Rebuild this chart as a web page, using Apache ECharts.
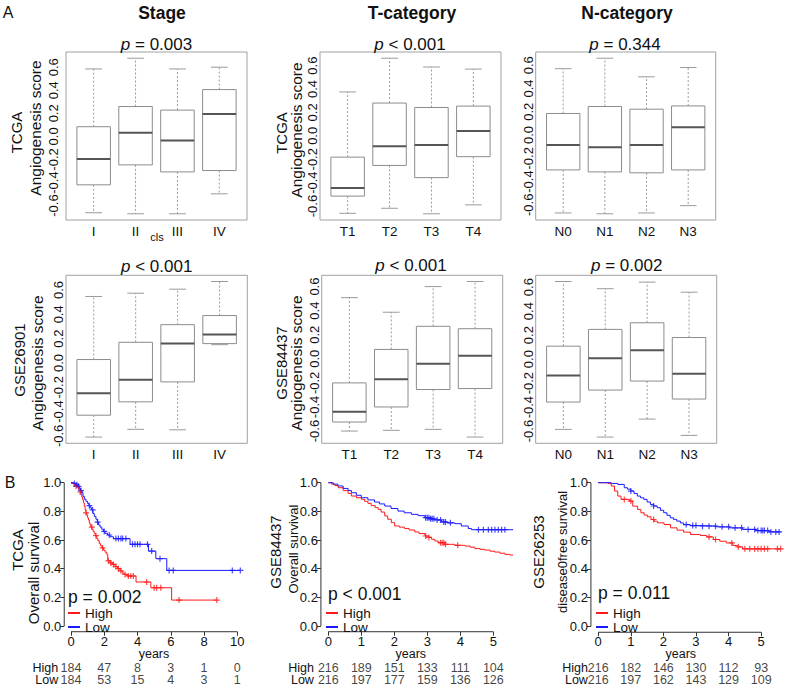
<!DOCTYPE html>
<html><head><meta charset="utf-8">
<script src="https://cdn.jsdelivr.net/npm/echarts@6/dist/echarts.min.js"></script>
<style>html,body{margin:0;padding:0;background:#fff}#c{width:788px;height:689px}</style>
</head><body><div id="c"></div>
<script>
// ================= DATA =================
const stageCats = ['I', 'II', 'III', 'IV'];
const tCats = ['T1', 'T2', 'T3', 'T4'];
const nCats = ['N0', 'N1', 'N2', 'N3'];
const scoreTicks = [-0.6, -0.4, -0.2, 0, 0.2, 0.4, 0.6];
// box stats per category: [lower whisker, Q1, median, Q3, upper whisker]
const tcgaStage = [[-0.662, -0.42, -0.195, 0.084, 0.585], [-0.671, -0.247, 0.032, 0.259, 0.678], [-0.671, -0.308, -0.035, 0.228, 0.585], [-0.498, -0.296, 0.194, 0.406, 0.60]];
const tcgaT = [[-0.662, -0.515, -0.446, -0.182, 0.375], [-0.619, -0.253, -0.089, 0.28, 0.663], [-0.666, -0.357, -0.078, 0.242, 0.588], [-0.59, -0.178, 0.041, 0.254, 0.57]];
const tcgaN = [[-0.67, -0.30, -0.086, 0.185, 0.57], [-0.677, -0.317, -0.106, 0.245, 0.66], [-0.67, -0.325, -0.086, 0.222, 0.50], [-0.607, -0.30, 0.066, 0.25, 0.58]];
const gse26901Stage = [[-0.61, -0.43, -0.25, 0.028, 0.547], [-0.546, -0.32, -0.139, 0.17, 0.574], [-0.55, -0.156, 0.159, 0.315, 0.607], [0.15, 0.159, 0.235, 0.39, 0.67]];
const gse84437T = [[-0.60, -0.525, -0.44, -0.2, 0.508], [-0.594, -0.40, -0.17, 0.078, 0.387], [-0.586, -0.255, -0.04, 0.27, 0.60], [-0.65, -0.247, 0.025, 0.25, 0.642]];
const gseN = [[-0.586, -0.358, -0.136, 0.108, 0.647], [-0.65, -0.258, 0.008, 0.248, 0.587], [-0.50, -0.183, 0.075, 0.303, 0.642], [-0.636, -0.333, -0.122, 0.18, 0.558]];

// Kaplan-Meier curves (time in years, survival)
const survTicks = [0, 0.2, 0.4, 0.6, 0.8, 1.0];
const tcgaHighT = [0, 0.1, 0.2, 0.3, 0.4, 0.48, 0.55, 0.6, 0.65, 0.7, 0.75, 0.8, 0.85, 0.9, 0.95, 1.0, 1.05, 1.1, 1.15, 1.2, 1.27, 1.33, 1.4, 1.47, 1.55, 1.62, 1.7, 1.78, 1.86, 1.95, 2.05, 2.15, 2.21, 2.35, 2.5, 2.65, 2.8, 2.95, 3.08, 3.2, 3.35, 3.91, 4.8, 6.05, 8.77];
const tcgaHighS = [1, 0.995, 0.985, 0.975, 0.965, 0.95, 0.935, 0.92, 0.9, 0.88, 0.86, 0.835, 0.81, 0.79, 0.775, 0.755, 0.74, 0.72, 0.705, 0.69, 0.675, 0.66, 0.645, 0.63, 0.61, 0.595, 0.575, 0.56, 0.545, 0.53, 0.515, 0.5, 0.455, 0.44, 0.43, 0.415, 0.4, 0.385, 0.37, 0.36, 0.349, 0.307, 0.267, 0.181, 0.181];
const tcgaHighCens = [0.3, 0.55, 0.9, 1.25, 1.5, 1.9, 2.25, 2.4, 2.55, 2.7, 2.85, 3.0, 3.25, 3.45, 3.6, 3.75, 4.55, 5.0, 5.15, 5.4, 6.5, 8.77];
const tcgaLowT = [0, 0.15, 0.3, 0.4, 0.5, 0.58, 0.65, 0.72, 0.8, 0.9, 1.0, 1.08, 1.16, 1.24, 1.32, 1.4, 1.5, 1.58, 1.66, 1.75, 1.85, 1.95, 2.05, 2.2, 2.35, 2.55, 3.55, 4.66, 5.1, 5.76, 10.18];
const tcgaLowS = [1, 0.995, 0.985, 0.975, 0.96, 0.945, 0.93, 0.905, 0.885, 0.87, 0.855, 0.84, 0.825, 0.81, 0.785, 0.765, 0.745, 0.725, 0.705, 0.69, 0.675, 0.66, 0.647, 0.635, 0.623, 0.61, 0.57, 0.523, 0.47, 0.388, 0.388];
const tcgaLowCens = [0.2, 0.35, 0.45, 0.6, 1.1, 1.3, 1.6, 2.0, 2.3, 2.7, 2.85, 3.0, 3.1, 3.3, 3.7, 3.85, 4.0, 4.15, 4.6, 4.85, 5.35, 5.9, 6.15, 9.7, 10.18];

const g84HighT = [0, 0.1, 0.2, 0.3, 0.45, 0.6, 0.7, 0.85, 1.0, 1.1, 1.2, 1.3, 1.42, 1.51, 1.6, 1.71, 1.8, 1.91, 2.01, 2.15, 2.31, 2.45, 2.62, 2.75, 2.93, 3.05, 3.13, 3.23, 3.33, 3.54, 3.83, 4.14, 4.3, 4.44, 4.6, 4.74, 4.9, 5.04, 5.2, 5.35, 5.5, 5.6];
const g84HighS = [1, 0.99, 0.98, 0.965, 0.945, 0.925, 0.907, 0.895, 0.884, 0.87, 0.856, 0.84, 0.826, 0.814, 0.795, 0.768, 0.745, 0.721, 0.698, 0.69, 0.68, 0.67, 0.656, 0.645, 0.628, 0.618, 0.605, 0.593, 0.581, 0.57, 0.563, 0.558, 0.55, 0.54, 0.535, 0.53, 0.522, 0.516, 0.508, 0.5, 0.495, 0.493];
const g84HighCens = [2.95, 3.05, 3.4, 3.45, 3.5, 3.55, 3.92];
const g84LowT = [0, 0.15, 0.29, 0.45, 0.6, 0.7, 0.85, 1.0, 1.2, 1.4, 1.55, 1.71, 1.9, 2.11, 2.3, 2.52, 2.72, 2.93, 3.1, 3.23, 3.43, 3.6, 3.83, 4.03, 4.24, 4.34, 5.6];
const g84LowS = [1, 0.99, 0.977, 0.96, 0.945, 0.93, 0.912, 0.895, 0.88, 0.865, 0.852, 0.837, 0.82, 0.802, 0.79, 0.779, 0.77, 0.756, 0.748, 0.74, 0.726, 0.72, 0.714, 0.698, 0.68, 0.672, 0.672];
const g84LowCens = [2.95, 3.0, 3.05, 3.1, 3.15, 3.2, 3.3, 3.4, 3.5, 3.55, 3.7, 4.55, 4.7, 4.85, 4.95, 5.05, 5.15, 5.25, 5.35];

const g26HighT = [0, 0.3, 0.4, 0.5, 0.6, 0.7, 0.96, 1.06, 1.21, 1.31, 1.41, 1.51, 1.62, 1.72, 1.82, 2.02, 2.22, 2.42, 2.62, 2.83, 3.13, 3.33, 3.53, 3.73, 3.93, 4.13, 4.28, 4.43, 5.6];
const g26HighS = [1, 0.995, 0.977, 0.942, 0.907, 0.884, 0.872, 0.837, 0.814, 0.791, 0.775, 0.763, 0.744, 0.732, 0.721, 0.709, 0.686, 0.67, 0.656, 0.64, 0.633, 0.623, 0.605, 0.593, 0.581, 0.563, 0.554, 0.54, 0.54];
const g26HighCens = [0.8, 1.0, 1.7, 3.4, 3.6, 4.1, 4.3, 4.5, 4.65, 4.8, 4.9, 5.0, 5.1, 5.2, 5.5, 5.6];
const g26LowT = [0, 0.4, 0.6, 0.8, 0.9, 1.0, 1.1, 1.2, 1.3, 1.4, 1.5, 1.6, 1.7, 1.81, 1.91, 2.01, 2.11, 2.21, 2.31, 2.41, 2.52, 2.62, 2.82, 3.12, 3.63, 4.03, 4.43, 4.84, 5.24, 5.6];
const g26LowS = [1, 0.995, 0.988, 0.965, 0.955, 0.942, 0.925, 0.907, 0.895, 0.884, 0.866, 0.849, 0.838, 0.826, 0.808, 0.791, 0.773, 0.756, 0.745, 0.733, 0.72, 0.709, 0.702, 0.698, 0.693, 0.686, 0.675, 0.667, 0.658, 0.656];
const g26LowCens = [1.0, 1.7, 2.7, 2.9, 3.0, 3.2, 3.4, 3.6, 3.8, 4.0, 4.2, 4.4, 4.6, 4.8, 4.9, 5.0, 5.05, 5.1, 5.2, 5.3, 5.45, 5.55];

// numbers at risk
const riskYearsTcga = [0, 2, 4, 6, 8, 10];
const riskHighTcga = [184, 47, 8, 3, 1, 0];
const riskLowTcga = [184, 53, 15, 4, 3, 1];
const riskYearsGse = [0, 1, 2, 3, 4, 5];
const riskHigh84 = [216, 189, 151, 133, 111, 104];
const riskLow84 = [216, 197, 177, 159, 136, 126];
const riskHigh26 = [216, 182, 146, 130, 112, 93];
const riskLow26 = [216, 197, 162, 143, 129, 109];

// ================= CHART =================
const FONT = '"Liberation Sans", Arial, Helvetica, sans-serif';
const TXT = '#111';
const RED = '#ff1a1a', BLUE = '#1a1aff';
const PLUS = 'path://M4,0H6V4H10V6H6V10H4V6H0V4H4Z';
const grids = [], xAxes = [], yAxes = [], series = [], legends = [], graphics = [];

function renderBox(params, api) {
  const x = api.value(0);
  const cy = v => api.coord([x, v])[1];
  const cx = api.coord([x, api.value(3)])[0];
  const yLo = cy(api.value(1)), yQ1 = cy(api.value(2)), yMed = cy(api.value(3)), yQ3 = cy(api.value(4)), yHi = cy(api.value(5));
  const hw = api.size([0.4, 0])[0], cw = api.size([0.2, 0])[0];
  const wStyle = { stroke: '#9a9a9a', lineWidth: 1, lineDash: [2, 2] };
  const capStyle = { stroke: '#9a9a9a', lineWidth: 1 };
  return { type: 'group', children: [
    { type: 'line', shape: { x1: cx, y1: yQ3, x2: cx, y2: yHi }, style: wStyle },
    { type: 'line', shape: { x1: cx, y1: yQ1, x2: cx, y2: yLo }, style: wStyle },
    { type: 'line', shape: { x1: cx - cw, y1: yHi, x2: cx + cw, y2: yHi }, style: capStyle },
    { type: 'line', shape: { x1: cx - cw, y1: yLo, x2: cx + cw, y2: yLo }, style: capStyle },
    { type: 'rect', shape: { x: cx - hw, y: yQ3, width: 2 * hw, height: yQ1 - yQ3 }, style: { fill: '#fff', stroke: '#8c8c8c', lineWidth: 1 } },
    { type: 'line', shape: { x1: cx - hw, y1: yMed, x2: cx + hw, y2: yMed }, style: { stroke: '#555', lineWidth: 2 } }
  ] };
}

function boxPanel(p) {
  const gi = grids.length;
  grids.push({ left: p.left, top: p.top, width: p.width, height: 168, show: true, borderColor: '#a0a0a0', borderWidth: 1, backgroundColor: 'transparent' });
  const all = p.stats.flat();
  const lo = Math.min(...all), hi = Math.max(...all), pad = (hi - lo) * 0.04;
  xAxes.push({ type: 'value', gridIndex: gi, min: 0.34, max: 4.66,
    axisLine: { show: false, onZero: false }, axisTick: { show: false }, splitLine: { show: false },
    axisLabel: { customValues: p.cats.map((c, i) => i + 1), formatter: v => p.cats[Math.round(v) - 1], fontSize: 13.5, fontFamily: FONT, color: TXT, margin: 4 } });
  yAxes.push({ type: 'value', gridIndex: gi, min: lo - pad, max: hi + pad,
    axisLine: { show: false, onZero: false }, axisTick: { show: false }, splitLine: { show: false },
    axisLabel: { customValues: scoreTicks, formatter: v => v.toFixed(1), rotate: 90, fontSize: 13, fontFamily: FONT, color: TXT, margin: p.margin } });
  series.push({ type: 'custom', xAxisIndex: gi, yAxisIndex: gi, renderItem: renderBox, silent: true,
    encode: { x: 0, y: [1, 2, 3, 4, 5] }, data: p.stats.map((s, i) => [i + 1, ...s]) });
}

function survAt(t, T, S) {
  let v = S[0];
  for (let i = 0; i < T.length; i++) if (T[i] <= t) v = S[i];
  return v;
}

function kmPanel(p) {
  const tMax = Math.max(p.highT[p.highT.length - 1], p.lowT[p.lowT.length - 1], ...p.highCens, ...p.lowCens);
  const xmin = -0.04 * tMax, xmax = 1.04 * tMax;
  const left = p.x0 + xmin * p.ppy, width = (xmax - xmin) * p.ppy;
  const top = p.y1 - 0.04 * (p.y0 - p.y1), height = 1.08 * (p.y0 - p.y1);
  const gi = grids.length;
  grids.push({ left, top, width, height });
  xAxes.push({ type: 'value', gridIndex: gi, min: xmin, max: xmax, splitLine: { show: false },
    axisLine: { show: false, onZero: false },
    axisTick: { show: true, customValues: p.xTicks, length: 4, lineStyle: { color: '#333' } },
    axisLabel: { customValues: p.xTicks, fontSize: 13, fontFamily: FONT, color: TXT, margin: 3 } });
  yAxes.push({ type: 'value', gridIndex: gi, min: -0.04, max: 1.04, splitLine: { show: false },
    axisLine: { show: false, onZero: false },
    axisTick: { show: true, customValues: survTicks, length: 4, lineStyle: { color: '#333' } },
    axisLabel: { customValues: survTicks, formatter: v => v.toFixed(1), fontSize: 13, fontFamily: FONT, color: TXT, margin: 3 } });
  const axStyle = { color: '#333', width: 1 };
  series.push({ type: 'line', xAxisIndex: gi, yAxisIndex: gi, silent: true, clip: false, symbol: 'none', lineStyle: axStyle,
    data: [[p.xTicks[0], -0.04], [p.xTicks[p.xTicks.length - 1], -0.04]] });
  series.push({ type: 'line', xAxisIndex: gi, yAxisIndex: gi, silent: true, clip: false, symbol: 'none', lineStyle: axStyle,
    data: [[xmin, survTicks[0]], [xmin, survTicks[survTicks.length - 1]]] });
  [['High', p.highT, p.highS, p.highCens, RED], ['Low', p.lowT, p.lowS, p.lowCens, BLUE]].forEach(([name, T, S, C, col]) => {
    series.push({ type: 'line', name, xAxisIndex: gi, yAxisIndex: gi, step: 'end', symbol: 'none', silent: true,
      lineStyle: { color: col, width: 1 }, itemStyle: { color: col }, data: T.map((t, i) => [t, S[i]]) });
    series.push({ type: 'scatter', name: name + ' censored', xAxisIndex: gi, yAxisIndex: gi, symbol: PLUS, symbolSize: 6, silent: true,
      itemStyle: { color: col }, data: C.map(t => [t, survAt(t, T, S)]) });
  });
  // numbers at risk
  const ri = grids.length;
  grids.push({ left, width, top: 661.5, height: 25 });
  xAxes.push({ type: 'value', gridIndex: ri, min: xmin, max: xmax, show: false });
  yAxes.push({ type: 'category', gridIndex: ri, data: ['High', 'Low'], inverse: true,
    axisLine: { show: false }, axisTick: { show: false }, splitLine: { show: false },
    axisLabel: { interval: 0, fontSize: 12.5, fontFamily: FONT, color: TXT, margin: p.riskMargin } });
  series.push({ type: 'scatter', xAxisIndex: ri, yAxisIndex: ri, symbolSize: 0, silent: true,
    data: p.riskYears.map((t, i) => [t, 0, p.riskHigh[i]]).concat(p.riskYears.map((t, i) => [t, 1, p.riskLow[i]])),
    label: { show: true, position: 'inside', formatter: q => String(q.value[2]), fontSize: 12.5, fontFamily: FONT, color: TXT } });
  legends.push({ left: p.legendLeft, top: 606, orient: 'vertical', icon: 'rect', itemWidth: 12, itemHeight: 2, itemGap: 0,
    padding: 0, selectedMode: false, data: ['High', 'Low'],
    textStyle: { fontSize: 13.5, fontFamily: FONT, color: TXT, lineHeight: 13.3 } });
}

function txt(text, x, y, size, o = {}) {
  const st = { text, fontSize: size, fontFamily: FONT, fontWeight: o.bold ? 'bold' : 'normal', fill: TXT,
    textAlign: o.align || 'center', textVerticalAlign: 'middle', verticalAlign: 'middle' };
  if (o.rich) st.rich = o.rich;
  graphics.push({ type: 'text', x, y, rotation: o.rot ? Math.PI / 2 : 0, silent: true, z: 100, style: st });
}
function pItal(val, x, y) {
  txt('{i|p} ' + val, x, y, 17, { rich: { i: { fontStyle: 'italic', fontSize: 17, fontFamily: FONT, fill: TXT } } });
}

// ---- panels ----
boxPanel({ left: 66, top: 52, width: 181, cats: stageCats, stats: tcgaStage, margin: 6 });
boxPanel({ left: 320, top: 52, width: 181, cats: tCats, stats: tcgaT, margin: 1 });
boxPanel({ left: 535.7, top: 52, width: 180, cats: nCats, stats: tcgaN, margin: 1 });
boxPanel({ left: 66, top: 275.3, width: 181.3, cats: stageCats, stats: gse26901Stage, margin: 1 });
boxPanel({ left: 321.7, top: 275.3, width: 181, cats: tCats, stats: gse84437T, margin: 1 });
boxPanel({ left: 535.7, top: 275.3, width: 181, cats: nCats, stats: gseN, margin: 1 });

kmPanel({ x0: 71, ppy: 16.63, y1: 482.7, y0: 626, xTicks: [0, 2, 4, 6, 8, 10], riskMargin: 6, legendLeft: 68,
  highT: tcgaHighT, highS: tcgaHighS, highCens: tcgaHighCens, lowT: tcgaLowT, lowS: tcgaLowS, lowCens: tcgaLowCens,
  riskYears: riskYearsTcga, riskHigh: riskHighTcga, riskLow: riskLowTcga });
kmPanel({ x0: 328.3, ppy: 33, y1: 482.7, y0: 626, xTicks: [0, 1, 2, 3, 4, 5], riskMargin: 7, legendLeft: 326,
  highT: g84HighT, highS: g84HighS, highCens: g84HighCens, lowT: g84LowT, lowS: g84LowS, lowCens: g84LowCens,
  riskYears: riskYearsGse, riskHigh: riskHigh84, riskLow: riskLow84 });
kmPanel({ x0: 598.3, ppy: 33, y1: 482.7, y0: 626.5, xTicks: [0, 1, 2, 3, 4, 5], riskMargin: 3, legendLeft: 596,
  highT: g26HighT, highS: g26HighS, highCens: g26HighCens, lowT: g26LowT, lowS: g26LowS, lowCens: g26LowCens,
  riskYears: riskYearsGse, riskHigh: riskHigh26, riskLow: riskLow26 });

// ---- text ----
txt('A', 8, 12, 16);
txt('Stage', 162, 13, 17.5, { bold: true });
txt('T-category', 412, 13, 17.5, { bold: true });
txt('N-category', 627, 13, 17.5, { bold: true });
pItal('= 0.003', 156.5, 44);
pItal('< 0.001', 410, 44);
pItal('= 0.344', 625, 44);
pItal('< 0.001', 156.7, 266.5);
pItal('< 0.001', 411, 265.5);
pItal('= 0.002', 626.7, 265.5);
txt('TCGA', 16, 132.5, 15, { rot: true });
txt('TCGA', 281, 133, 15, { rot: true });
txt('Angiogenesis score', 35, 128, 15.5, { rot: true });
txt('Angiogenesis score', 296.7, 130, 15.5, { rot: true });
txt('GSE26901', 19, 360, 15, { rot: true });
txt('GSE84437', 281, 363, 15, { rot: true });
txt('Angiogenesis score', 37.5, 363, 15.5, { rot: true });
txt('Angiogenesis score', 296.7, 363, 15.5, { rot: true });
txt('cls', 157, 237, 11);
txt('B', 10, 482, 16);
txt('TCGA', 17.5, 550, 15, { rot: true });
txt('GSE84437', 275, 552, 15, { rot: true });
txt('GSE26253', 538, 552, 15, { rot: true });
txt('Overall survival', 33, 573, 15, { rot: true });
txt('Overall survival', 293, 549, 13, { rot: true });
txt('disease0free survival', 562, 552, 13, { rot: true });
txt('p = 0.002', 68, 596.5, 17.5, { align: 'left' });
txt('p < 0.001', 328, 594.3, 17.5, { align: 'left' });
txt('p = 0.011', 598, 592.7, 17.5, { align: 'left' });
txt('years', 154, 654, 12.5);
txt('years', 410.8, 654, 12.5);
txt('years', 680.8, 654, 12.5);

const chart = echarts.init(document.getElementById('c'), null, { renderer: 'svg', width: 788, height: 689 });
chart.setOption({
  animation: false,
  backgroundColor: '#fff',
  grid: grids, xAxis: xAxes, yAxis: yAxes, series, legend: legends,
  graphic: { elements: graphics }
});
</script></body></html>
